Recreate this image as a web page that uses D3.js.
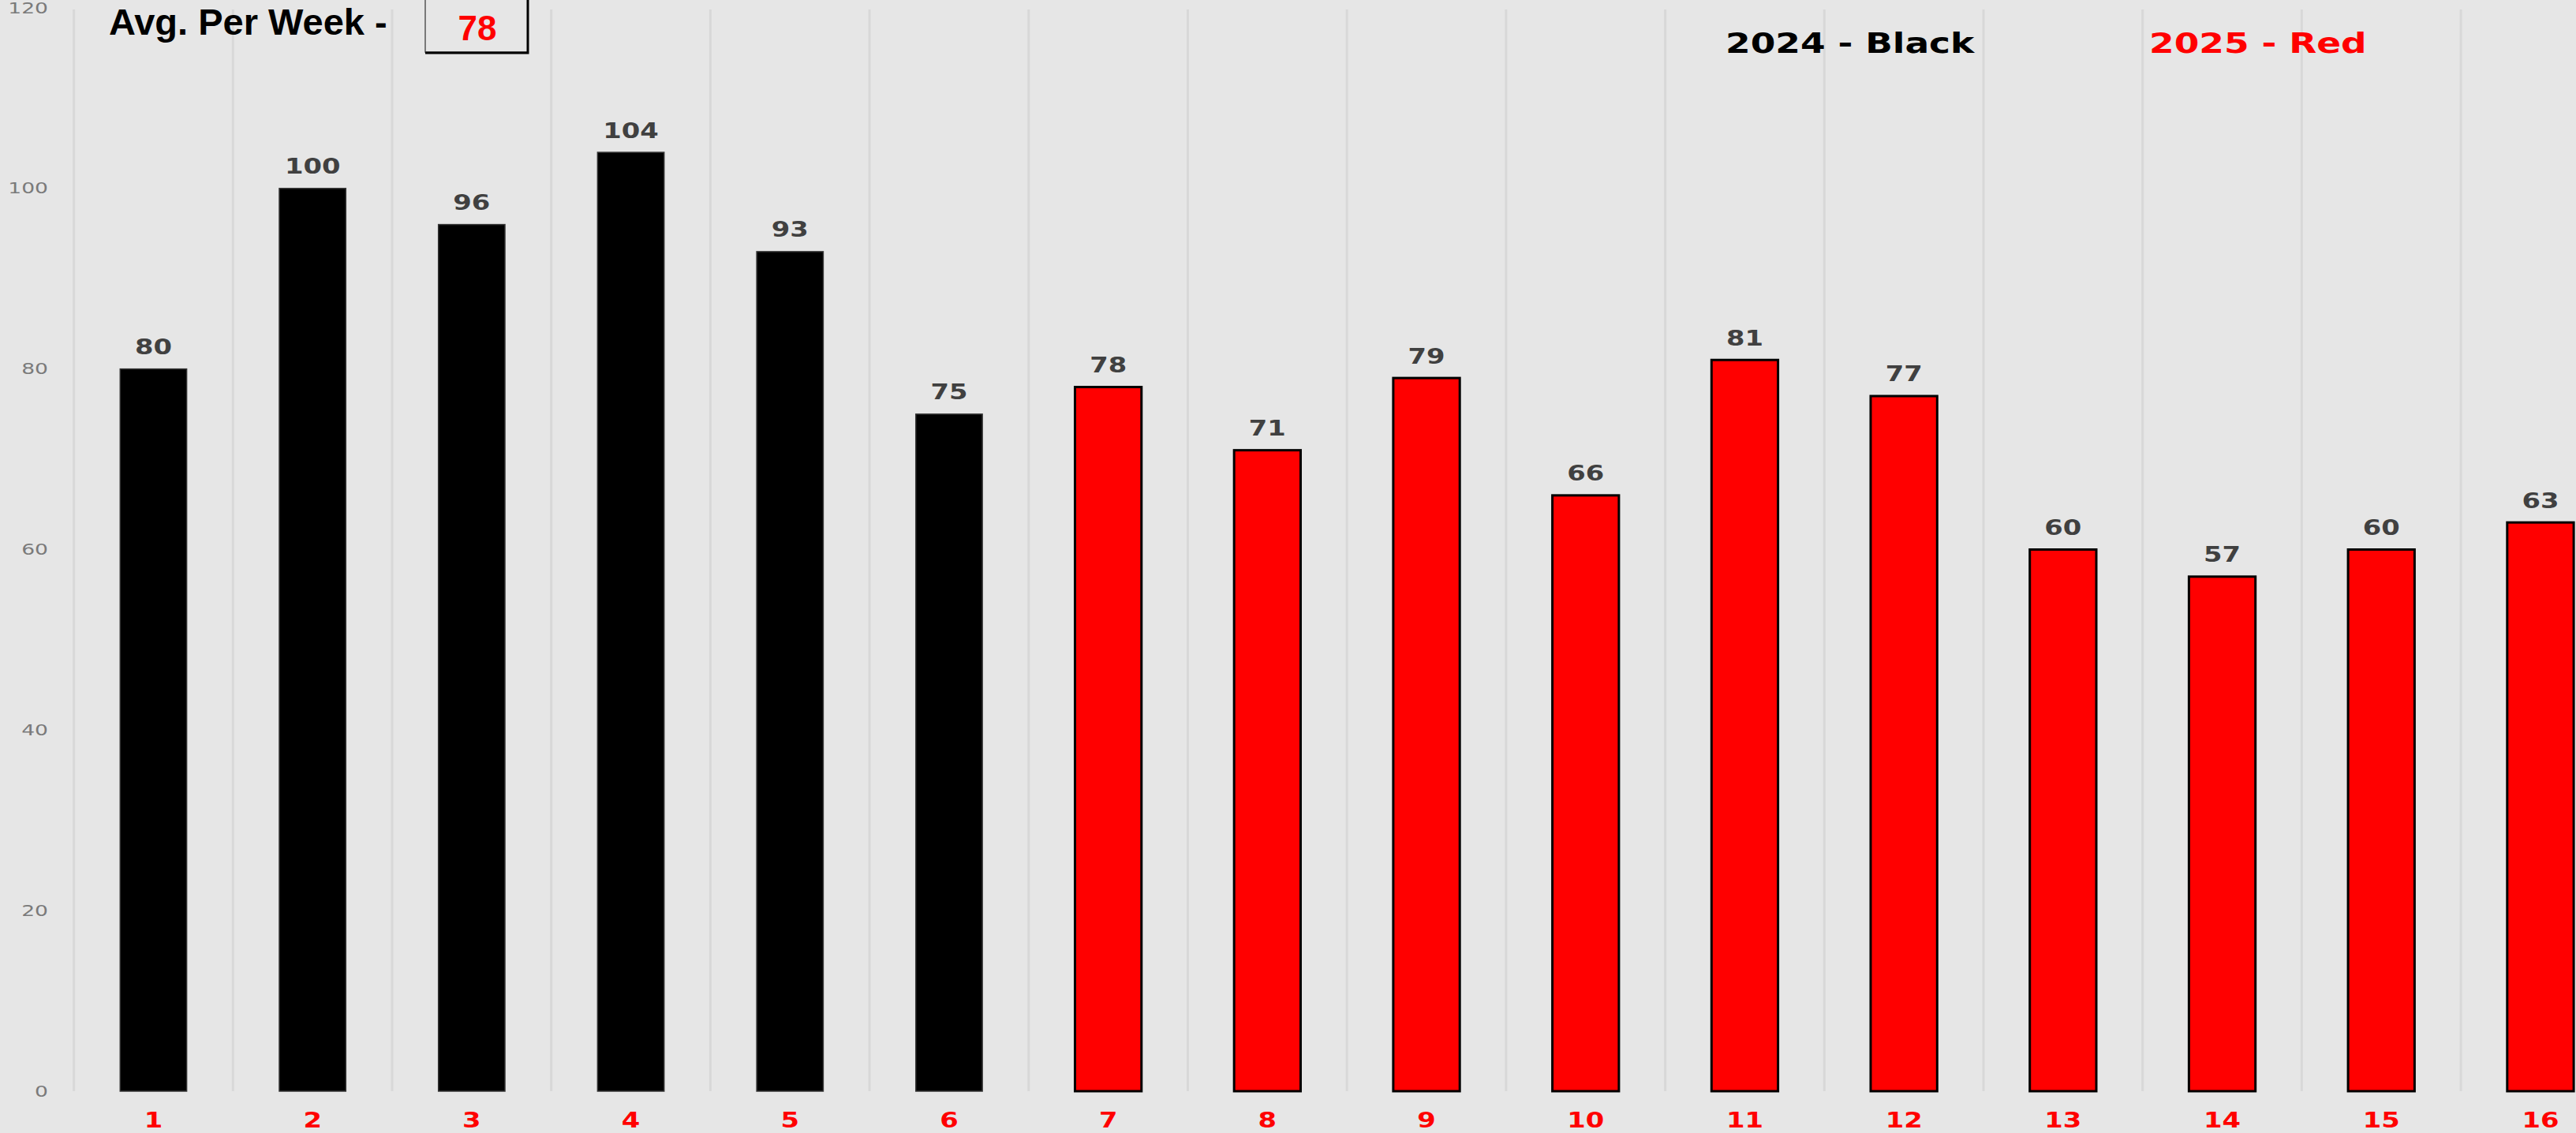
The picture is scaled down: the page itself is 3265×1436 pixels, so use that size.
<!DOCTYPE html>
<html>
<head>
<meta charset="utf-8">
<script src="https://cdn.jsdelivr.net/npm/d3@7"></script>
<style>
  html, body { margin: 0; padding: 0; background: #e6e6e6; overflow: hidden; }
  svg { display: block; }
</style>
</head>
<body>
<div id="chart"></div>
<script>
// data
const weeks = ["1","2","3","4","5","6","7","8","9","10","11","12","13","14","15","16"]
const counts = [80, 100, 96, 104, 93, 75, 78, 71, 79, 66, 81, 77, 60, 57, 60, 63]
const years = [2024, 2024, 2024, 2024, 2024, 2024, 2025, 2025, 2025, 2025, 2025, 2025, 2025, 2025, 2025, 2025]
const yTicks = [0, 20, 40, 60, 80, 100, 120]
const legendYears = [2024, 2025]
const legendNames = ["Black", "Red"]

const W = 3265, H = 1436
let margin = { left: 93.6, top: 10, bottom: 1383 }
const step = 201.7
const stretch = 1.3   // excel text looks widened

const fill = d3.scaleOrdinal().domain(legendYears).range(["#000000", "#ff0000"])
const edge = d3.scaleOrdinal().domain(legendYears).range(["#333333", "#000000"])

const svg = d3.select("#chart").append("svg")
    .attr("width", W)
    .attr("height", H)

svg.append("rect").attr("width", W).attr("height", H).attr("fill", "#e6e6e6")

let x = d3.scaleBand()
    .domain(weeks)
    .range([margin.left, margin.left + step * weeks.length])
    .paddingInner(0.582)
    .paddingOuter(0.291)

let y = d3.scaleLinear()
    .domain([0, 120])
    .range([margin.bottom, margin.top])

// vertical grid lines between categories
svg.append("g").attr("class", "grid")
    .selectAll("line")
    .data(d3.range(weeks.length + 1))
    .enter().append("line")
    .attr("x1", i => margin.left + i * x.step())
    .attr("x2", i => margin.left + i * x.step())
    .attr("y1", margin.top + 2)
    .attr("y2", margin.bottom)
    .attr("stroke", "#d8d8d8")
    .attr("stroke-width", 3)

// y axis labels
svg.append("g")
    .attr("transform", "translate(61,0)")
    .call(d3.axisLeft(y).tickValues(yTicks).tickSize(0).tickPadding(0))
    .call(g => {
        g.select(".domain").remove()
        g.selectAll(".tick text")
            .attr("x", 0)
            .attr("font-family", "DejaVu Sans")
            .attr("font-size", 19)
            .attr("fill", "#7a7a7a")
            .attr("transform", `scale(${1.4},1)`)
    })

// bars
const rows = weeks.map((w, i) => ({ week: w, value: counts[i], year: years[i] }))

svg.append("g").selectAll("rect")
    .data(rows)
    .enter().append("rect")
    .attr("x", d => x(d.week))
    .attr("width", x.bandwidth())
    .attr("y", d => y(d.value))
    .attr("height", d => y(0) - y(d.value))
    .attr("fill", d => fill(d.year))
    .attr("stroke", d => edge(d.year))
    .attr("stroke-width", d => d.year === 2025 ? 3 : 1.5)

// value labels
svg.append("g").selectAll("text")
    .data(rows)
    .enter().append("text")
    .attr("transform", d => `translate(${x(d.week) + x.bandwidth() / 2},${y(d.value) - 18.5}) scale(${stretch},1)`)
    .attr("text-anchor", "middle")
    .attr("font-family", "DejaVu Sans")
    .attr("font-weight", "bold")
    .attr("font-size", 26)
    .attr("fill", "#404040")
    .text(d => d.value)

// x axis labels
svg.append("g")
    .attr("transform", `translate(0,${margin.bottom})`)
    .call(d3.axisBottom(x).tickSize(0).tickPadding(27.5))
    .call(g => {
        g.select(".domain").remove()
        g.selectAll(".tick text")
            .attr("font-family", "DejaVu Sans")
            .attr("font-weight", "bold")
            .attr("font-size", 26)
            .attr("fill", "#ff0000")
            .attr("transform", `scale(${stretch},1)`)
    })

// title + average box
const avg = Math.round(d3.mean(counts))

svg.append("text")
    .attr("x", 138).attr("y", 44)
    .attr("font-family", "Liberation Sans, Arial, sans-serif")
    .attr("font-weight", "bold")
    .attr("font-size", 47)
    .attr("fill", "#000")
    .text("Avg. Per Week -")

svg.append("rect")
    .attr("x", 539).attr("y", -1)
    .attr("width", 130).attr("height", 67)
    .attr("fill", "#e6e6e6")
    .attr("stroke", "#555").attr("stroke-width", 1.5)
svg.append("path")
    .attr("d", "M669,0 V67 H539")
    .attr("fill", "none")
    .attr("stroke", "#000").attr("stroke-width", 3)

svg.append("text")
    .attr("x", 605).attr("y", 51)
    .attr("text-anchor", "middle")
    .attr("font-family", "Liberation Sans, Arial, sans-serif")
    .attr("font-weight", "bold")
    .attr("font-size", 44)
    .attr("fill", "#ff0000")
    .text(avg)

// legend
const legendX = [2187, 2724]
svg.append("g").selectAll("text")
    .data(legendYears)
    .enter().append("text")
    .attr("transform", (d, i) => `translate(${legendX[i]},67) scale(${stretch},1)`)
    .attr("font-family", "DejaVu Sans")
    .attr("font-weight", "bold")
    .attr("font-size", 35)
    .attr("fill", d => fill(d))
    .text((d, i) => d + " - " + legendNames[i])
</script>
</body>
</html>
